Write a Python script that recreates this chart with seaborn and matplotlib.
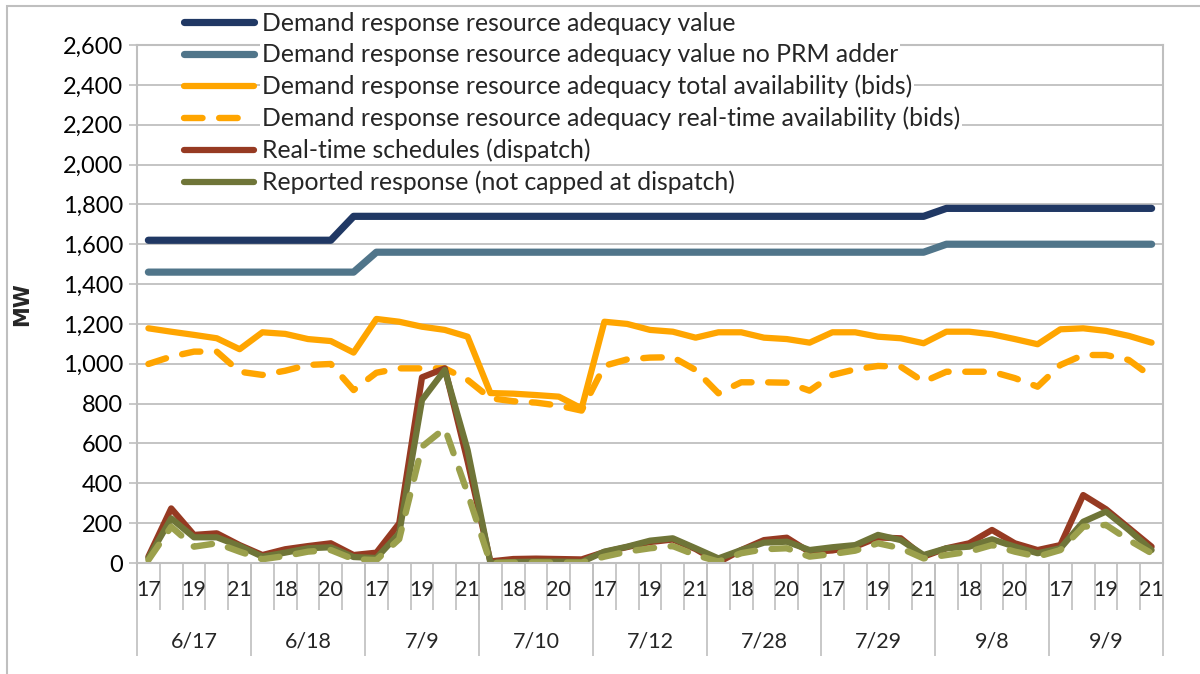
import matplotlib
matplotlib.use("Agg")
import matplotlib.pyplot as plt
import numpy as np
import seaborn as sns
from matplotlib.patches import Rectangle
from matplotlib.ticker import StrMethodFormatter

# ---------------------------------------------------------------------------
# Data, hours 17-21 for each event day
# ---------------------------------------------------------------------------
days = ["6/17", "6/18", "7/9", "7/10", "7/12", "7/28", "7/29", "9/8", "9/9"]
hours = [17, 18, 19, 20, 21]

ra_value = [1620, 1620, 1620, 1620, 1620, 1620, 1620, 1620, 1620, 1740,
            1740, 1740, 1740, 1740, 1740, 1740, 1740, 1740, 1740, 1740,
            1740, 1740, 1740, 1740, 1740, 1740, 1740, 1740, 1740, 1740,
            1740, 1740, 1740, 1740, 1740, 1780, 1780, 1780, 1780, 1780,
            1780, 1780, 1780, 1780, 1780]
ra_no_prm = [1460, 1460, 1460, 1460, 1460, 1460, 1460, 1460, 1460, 1460,
             1560, 1560, 1560, 1560, 1560, 1560, 1560, 1560, 1560, 1560,
             1560, 1560, 1560, 1560, 1560, 1560, 1560, 1560, 1560, 1560,
             1560, 1560, 1560, 1560, 1560, 1600, 1600, 1600, 1600, 1600,
             1600, 1600, 1600, 1600, 1600]
total_avail = [1178, 1161, 1145, 1128, 1073, 1158, 1150, 1124, 1114, 1056,
               1225, 1211, 1186, 1170, 1136, 853, 850, 843, 835, 776,
               1211, 1200, 1170, 1161, 1131, 1158, 1158, 1131, 1124, 1106,
               1158, 1158, 1136, 1128, 1103, 1161, 1161, 1148, 1124, 1098,
               1173, 1178, 1165, 1140, 1106]
rt_avail = [999, 1036, 1061, 1061, 960, 944, 965, 994, 999, 868,
            955, 977, 977, 977, 919, 827, 812, 805, 790, 765,
            990, 1022, 1031, 1033, 969, 852, 907, 907, 905, 865,
            944, 972, 989, 985, 910, 960, 960, 960, 928, 885,
            994, 1044, 1044, 1019, 935]
rt_schedules = [32, 274, 141, 149, 90, 40, 69, 85, 99, 40,
                52, 199, 932, 977, 510, 8, 20, 22, 20, 18,
                55, 80, 105, 118, 70, 3, 65, 115, 127, 55,
                63, 82, 128, 124, 32, 74, 99, 166, 99, 65,
                90, 341, 270, 176, 82]
reported = [25, 224, 129, 129, 85, 32, 52, 74, 79, 30,
            25, 149, 818, 969, 567, 0, 5, 7, 7, 5,
            57, 82, 112, 124, 74, 23, 65, 102, 107, 65,
            79, 90, 141, 115, 40, 74, 82, 119, 82, 49,
            74, 207, 258, 166, 65]
reported_capped = [15, 182, 82, 99, 57, 19, 35, 57, 65, 19,
                   15, 120, 584, 676, 350, 0, 2, 3, 2, 2,
                   32, 57, 74, 85, 40, 7, 49, 69, 74, 32,
                   45, 62, 99, 74, 23, 40, 57, 90, 57, 32,
                   65, 182, 191, 115, 49]

GRID = "#BFBFBF"

sns.set_theme(style="white")
plt.rcParams["font.family"] = ["Lato", "DejaVu Sans"]

n = len(days) * len(hours)
x = np.arange(n)

fig, ax = plt.subplots(figsize=(12, 6.74), dpi=100)
fig.subplots_adjust(left=137 / 1200, right=1163 / 1200,
                    top=1 - 45 / 674, bottom=1 - 563 / 674)

# (label, values, colour, linewidth, dashed)
series = [
    ("Demand response resource adequacy value", ra_value, "#203864", 5.2, False),
    ("Demand response resource adequacy value no PRM adder", ra_no_prm, "#50758A", 5.2, False),
    ("Demand response resource adequacy total availability (bids)", total_avail, "#FFA500", 4.5, False),
    ("Demand response resource adequacy real-time availability (bids)", rt_avail, "#FFA500", 4.6, True),
    ("Real-time schedules (dispatch)", rt_schedules, "#963A22", 4.5, False),
    ("Reported response (not capped at dispatch)", reported, "#6F7538", 4.5, False),
    (None, reported_capped, "#9BA04C", 4.6, True),
]

handles, labels = [], []
for label, vals, color, lw, dashed in series:
    sns.lineplot(x=x, y=vals, ax=ax, color=color, linewidth=lw,
                 solid_joinstyle="round", solid_capstyle="round")
    line = ax.lines[-1]
    if dashed:
        line.set_dashes((2.9, 2.6))
        line.set_dash_capstyle("round")
        line.set_dash_joinstyle("round")
    if label:
        handles.append(line)
        labels.append(label)

# y axis
ax.set_ylim(0, 2600)
ax.set_yticks(np.arange(0, 2601, 200))
ax.yaxis.set_major_formatter(StrMethodFormatter("{x:,.0f}"))
ax.yaxis.grid(True, color=GRID, linewidth=1.3)
ax.tick_params(axis="y", left=True, length=6, width=1.2, color=GRID,
               labelsize=17, pad=4, labelcolor="black")
ax.set_ylabel("MW", fontsize=15, fontweight="bold", family="DejaVu Sans")
ax.yaxis.set_label_coords(-0.102, 0.5)

for side in ["left", "right", "bottom", "top"]:
    ax.spines[side].set_color(GRID)
    ax.spines[side].set_linewidth(1.5)

# x axis: hour categories with day groups underneath
ax.set_xlim(-0.5, n - 0.5)
ax.set_xticks(np.arange(-0.5, n, 1))
ax.set_xticklabels([])
ax.tick_params(axis="x", which="major", bottom=True, length=34, width=1.2,
               color=GRID, direction="out")
ax.set_xticks(x[::2], minor=True)
ax.set_xticklabels([str(hours[i % len(hours)]) for i in x[::2]], minor=True)
ax.tick_params(axis="x", which="minor", length=0, pad=12, labelsize=15.5)

sep = ax.secondary_xaxis("bottom")
sep.set_xticks(np.arange(-0.5, n, len(hours)))
sep.set_xticklabels([])
sep.tick_params(axis="x", length=67, width=1.2, color=GRID, direction="out")
sep.spines["bottom"].set_visible(False)

grp = ax.secondary_xaxis("bottom")
grp.set_xticks(np.arange(2, n, len(hours)))
grp.set_xticklabels(days)
grp.tick_params(axis="x", length=0, pad=49, labelsize=15.5)
grp.spines["bottom"].set_visible(False)

# legend sits over the top of the plot area
leg = fig.legend(handles, labels, loc="upper left",
                 bbox_to_anchor=(184 / 1200, 1 - 12 / 674), frameon=False,
                 borderpad=0, borderaxespad=0, handlelength=2.85,
                 handletextpad=0.3, labelspacing=0.34, fontsize=17.8)
for t in leg.get_texts():
    t.set_bbox(dict(facecolor="white", edgecolor="none", pad=1.5))

# outer chart border
fig.add_artist(Rectangle((7 / 1200, -0.05), 1.1, 1 - 6 / 674 + 0.05,
                         transform=fig.transFigure, fill=False,
                         edgecolor=GRID, linewidth=1.5))

fig.savefig("out.png", dpi=100)
